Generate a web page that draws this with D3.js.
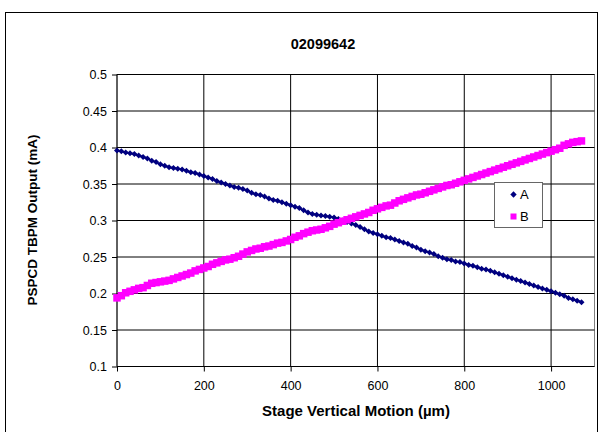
<!DOCTYPE html>
<html>
<head>
<meta charset="utf-8">
<script src="https://cdn.jsdelivr.net/npm/d3@7"></script>
<style>
  html, body { margin: 0; padding: 0; background: #fff; }
  svg { display: block; font-family: "Liberation Sans", Arial, sans-serif; }
</style>
</head>
<body>
<svg id="chart" width="600" height="432"></svg>
<script>
const title = "02099642";
const xTitle = "Stage Vertical Motion (µm)";
const yTitle = "PSPCD TBPM Output (mA)";
const xTicks = [0, 200, 400, 600, 800, 1000];
const yTicks = [0.1, 0.15, 0.2, 0.25, 0.3, 0.35, 0.4, 0.45, 0.5];
const xDomain = [0, 1100];
const yDomain = [0.1, 0.5];
const seriesNames = ["A", "B"];
const motion = [0,10,20,30,40,50,60,70,80,90,100,110,120,130,140,150,160,170,180,190,
  200,210,220,230,240,250,260,270,280,290,300,310,320,330,340,350,360,370,380,390,
  400,410,420,430,440,450,460,470,480,490,500,510,520,530,540,550,560,570,580,590,
  600,610,620,630,640,650,660,670,680,690,700,710,720,730,740,750,760,770,780,790,
  800,810,820,830,840,850,860,870,880,890,900,910,920,930,940,950,960,970,980,990,
  1000,1010,1020,1030,1040,1050,1060,1070];
const seriesA = [.396,.395,.393,.392,.391,.389,.387,.385,.382,.380,.377,.375,.373,.372,.371,.370,.368,.366,.365,.363,
  .361,.359,.357,.354,.352,.350,.348,.346,.345,.343,.341,.338,.336,.335,.333,.330,.328,.327,.325,.323,
  .321,.319,.317,.314,.311,.309,.308,.307,.306,.305,.304,.302,.300,.298,.296,.294,.291,.288,.285,.283,
  .281,.279,.277,.276,.274,.272,.270,.268,.265,.263,.260,.258,.256,.254,.251,.249,.247,.246,.244,.243,
  .241,.239,.238,.236,.234,.233,.231,.229,.227,.225,.223,.221,.219,.217,.215,.213,.211,.209,.207,.205,
  .203,.201,.199,.197,.194,.192,.190,.188];
const seriesB = [.194,.197,.201,.203,.205,.207,.208,.211,.214,.215,.216,.217,.218,.220,.222,.224,.226,.228,.231,.233,
  .235,.237,.240,.242,.244,.246,.247,.249,.251,.254,.257,.259,.261,.262,.264,.265,.267,.269,.270,.272,
  .274,.277,.279,.282,.284,.286,.287,.288,.290,.292,.295,.297,.299,.301,.303,.305,.307,.309,.311,.314,
  .316,.318,.320,.321,.324,.327,.329,.331,.333,.335,.336,.338,.340,.342,.344,.346,.348,.349,.351,.353,
  .355,.357,.359,.361,.363,.365,.367,.369,.371,.373,.375,.377,.379,.381,.383,.385,.387,.389,.391,.393,
  .395,.397,.399,.403,.405,.407,.408,.409];
const colors = ["#000080", "#FF00FF"];

const svg = d3.select("#chart");
const L = 117, R = 594.5, T = 74.5, B = 366.5;
const x = d3.scaleLinear().domain(xDomain).range([L, R]);
const y = d3.scaleLinear().domain(yDomain).range([B, T]);

// outer chart border
svg.append("rect").attr("x", 5.5).attr("y", 12.5).attr("width", 592).attr("height", 430)
  .attr("fill", "#fff").attr("stroke", "#000").attr("stroke-width", 1);

// plot area border
svg.append("rect").attr("x", L).attr("y", T).attr("width", R - L).attr("height", B - T)
  .attr("fill", "#fff").attr("stroke", "#808080").attr("stroke-width", 1);

// gridlines
svg.append("g").selectAll("line").data(yTicks.slice(1)).join("line")
  .attr("x1", L).attr("x2", R).attr("y1", d => y(d)).attr("y2", d => y(d))
  .attr("stroke", "#000").attr("stroke-width", 1);
svg.append("g").selectAll("line").data(xTicks.slice(1)).join("line")
  .attr("x1", d => x(d)).attr("x2", d => x(d)).attr("y1", T).attr("y2", B)
  .attr("stroke", "#000").attr("stroke-width", 1);

// axes
const xAxis = svg.append("g").attr("transform", `translate(0,${B})`)
  .call(d3.axisBottom(x).tickValues(xTicks).tickSize(5).tickPadding(10).tickFormat(d3.format("d")));
const yAxis = svg.append("g").attr("transform", `translate(${L},0)`)
  .call(d3.axisLeft(y).tickValues(yTicks).tickSize(5).tickPadding(5).tickFormat(d => String(+d.toFixed(2))));
[xAxis, yAxis].forEach(a => {
  a.select(".domain").attr("stroke", "#000");
  a.selectAll(".tick line").attr("stroke", "#000");
  a.selectAll("text").attr("font-size", 12.5).attr("fill", "#000")
    .attr("font-family", "Liberation Sans, Arial, sans-serif");
});
xAxis.select(".domain").attr("d", `M${L},0H${R}`);
yAxis.select(".domain").attr("d", `M0,${B}V${T}`);

// series
const dataA = motion.map((m, i) => [m, seriesA[i]]);
const dataB = motion.map((m, i) => [m, seriesB[i]]);
const line = d3.line().x(d => x(d[0])).y(d => y(d[1]));
svg.append("path").datum(dataA).attr("d", line).attr("fill", "none")
  .attr("stroke", colors[0]).attr("stroke-width", 2);
svg.append("path").datum(dataB).attr("d", line).attr("fill", "none")
  .attr("stroke", colors[1]).attr("stroke-width", 2);

const squareDiamond = {
  draw(ctx, size) {
    const r = Math.sqrt(size / 2);
    ctx.moveTo(0, -r); ctx.lineTo(r, 0); ctx.lineTo(0, r); ctx.lineTo(-r, 0); ctx.closePath();
  }
};
const diamond = d3.symbol().type(squareDiamond).size(18);
svg.append("g").selectAll("path").data(dataA).join("path")
  .attr("transform", d => `translate(${x(d[0])},${y(d[1])})`)
  .attr("d", diamond()).attr("fill", colors[0]);
svg.append("g").selectAll("rect").data(dataB).join("rect")
  .attr("x", d => x(d[0]) - 3.75).attr("y", d => y(d[1]) - 3.75)
  .attr("width", 7.5).attr("height", 7.5).attr("fill", colors[1]);

// titles
svg.append("text").attr("x", 323).attr("y", 49).attr("text-anchor", "middle")
  .attr("font-size", 14.5).attr("font-weight", "bold").text(title);
svg.append("text").attr("x", 356).attr("y", 416).attr("text-anchor", "middle")
  .attr("font-size", 15).attr("font-weight", "bold").text(xTitle);
svg.append("text").attr("transform", "translate(37,220) rotate(-90)").attr("text-anchor", "middle")
  .attr("font-size", 13.5).attr("font-weight", "bold").text(yTitle);

// legend
const lg = svg.append("g");
lg.append("rect").attr("x", 494.5).attr("y", 182.5).attr("width", 48).attr("height", 45)
  .attr("fill", "#fff").attr("stroke", "#666").attr("stroke-width", 1);
lg.append("path").attr("transform", "translate(513.5,194.5)").attr("d", d3.symbol().type(squareDiamond).size(20)())
  .attr("fill", colors[0]);
lg.append("rect").attr("x", 510.5).attr("y", 213.5).attr("width", 6).attr("height", 6).attr("fill", colors[1]);
lg.append("text").attr("x", 520).attr("y", 199).attr("font-size", 13).text(seriesNames[0]);
lg.append("text").attr("x", 520).attr("y", 221).attr("font-size", 13).text(seriesNames[1]);
</script>
</body>
</html>
